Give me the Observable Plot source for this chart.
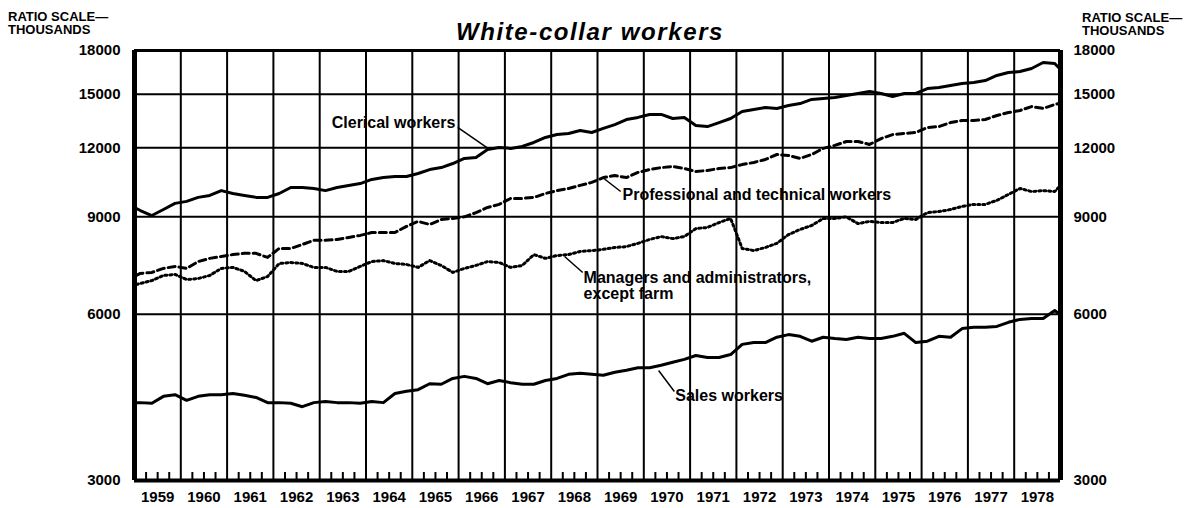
<!DOCTYPE html>
<html>
<head>
<meta charset="utf-8">
<script src="https://cdn.jsdelivr.net/npm/d3@7"></script>
<script src="https://cdn.jsdelivr.net/npm/@observablehq/plot@0.6"></script>
<style>
  body { margin: 0; background: #fff; }
  #wrap { position: relative; width: 1194px; height: 508px; font-family: "Liberation Sans", Arial, sans-serif; color: #000; }
  #wrap svg { position: absolute; left: 0; top: 0; }
  .title { position: absolute; left: 0; width: 1180px; top: 20px; line-height: 24px; text-align: center; font-weight: bold; font-style: italic; font-size: 24px; letter-spacing: 1.6px; }
  .ratio { position: absolute; font-weight: bold; font-size: 13px; line-height: 13px; white-space: nowrap; }
</style>
</head>
<body>
<div id="wrap"></div>
<script>
// ---- Data (thousands, ratio scale) ----
const years = [1959,1960,1961,1962,1963,1964,1965,1966,1967,1968,1969,1970,1971,1972,1973,1974,1975,1976,1977,1978];
const yTicks = [3000, 6000, 9000, 12000, 15000, 18000];
const gridValues = [6000, 9000, 12000, 15000];

// Each series: January 1959, then mid-quarter readings 1959 Q1 ... 1978 Q4, then December 1978
const clerical = [9320,
  9240, 9050, 9280, 9520,   9600, 9760, 9840, 10040,   9920, 9840, 9760, 9760,   9920, 10170, 10170, 10130,
  10040, 10170, 10260, 10340,   10520, 10600, 10650, 10650,   10780, 10960, 11050, 11240,   11480, 11530, 11920, 12020,
  11970, 12070, 12270, 12530,   12680, 12740, 12900, 12790,   13010, 13220, 13500, 13620,   13790, 13790, 13560, 13620,
  13170, 13110, 13330, 13560,   13960, 14080, 14190, 14140,   14310, 14430, 14680, 14740,   14800, 14920, 15050, 15170,
  15050, 14860, 15050, 15050,   15360, 15430, 15560, 15690,   15750, 15880, 16220, 16420,   16490, 16700, 17120, 17050,
  16770];
const professional = [7050,
  7110, 7140, 7260, 7320,   7260, 7470, 7570, 7630,   7690, 7730, 7730, 7600,   7890, 7890, 8020, 8160,
  8160, 8190, 8260, 8330,   8430, 8430, 8430, 8650,   8830, 8720, 8900, 8940,   9000, 9160, 9360, 9480,
  9720, 9720, 9760, 9920,   10040, 10130, 10260, 10390,   10600, 10690, 10600, 10830,   10960, 11050, 11100, 11010,
  10870, 10920, 11010, 11050,   11190, 11290, 11430, 11670,   11620, 11480, 11670, 11970,   12120, 12320, 12320, 12170,
  12470, 12680, 12740, 12790,   13060, 13110, 13330, 13450,   13450, 13500, 13730, 13900,   14020, 14250, 14140, 14370,
  14430];
const managers = [6790,
  6820, 6900, 7050, 7080,   6930, 6960, 7050, 7260,   7290, 7170, 6900, 7020,   7410, 7440, 7410, 7290,
  7290, 7170, 7170, 7320,   7470, 7500, 7410, 7380,   7290, 7500, 7350, 7140,   7260, 7350, 7470, 7440,
  7290, 7350, 7690, 7570,   7660, 7690, 7790, 7820,   7860, 7920, 7950, 8060,   8190, 8290, 8220, 8290,
  8570, 8610, 8790, 8940,   7890, 7820, 7920, 8060,   8360, 8540, 8680, 8940,   8940, 9000, 8750, 8830,
  8790, 8790, 8940, 8900,   9160, 9200, 9280, 9400,   9480, 9480, 9640, 9880,   10130, 10000, 10040, 10000,
  10170];
const sales = [4150,
  4150, 4140, 4260, 4290,   4190, 4260, 4290, 4290,   4310, 4280, 4240, 4150,   4150, 4140, 4080, 4150,
  4170, 4150, 4150, 4140,   4170, 4150, 4310, 4350,   4380, 4490, 4480, 4590,   4630, 4590, 4490, 4550,
  4510, 4480, 4480, 4550,   4590, 4670, 4690, 4670,   4650, 4710, 4750, 4800,   4800, 4850, 4910, 4970,
  5050, 5010, 5010, 5070,   5290, 5330, 5330, 5450,   5510, 5470, 5360, 5450,   5420, 5400, 5450, 5420,
  5420, 5470, 5540, 5330,   5360, 5470, 5450, 5650,   5680, 5680, 5700, 5800,   5870, 5890, 5890, 6090,
  6020];

const labels = [
  {text: "Clerical workers", x: 1965.93, y: 13330, anchor: "end"},
  {text: "Professional and technical workers", x: 1969.54, y: 9880, anchor: "start"},
  {text: "Managers and administrators,\nexcept farm", x: 1968.70, y: 6760, anchor: "start"},
  {text: "Sales workers", x: 1970.68, y: 4276, anchor: "start"}
];
const leaders = [
  {x1: 1965.98, y1: 13060, x2: 1966.62, y2: 12000},
  {x1: 1969.11, y1: 10604, x2: 1969.50, y2: 10002},
  {x1: 1968.29, y1: 7630, x2: 1968.68, y2: 7137},
  {x1: 1970.32, y1: 4745, x2: 1970.66, y2: 4348}
];

// ---- Build tables ----
const t = [years[0] + 0.5/12];
for (const y of years) for (let q = 0; q < 4; q++) t.push(y + 0.125 + 0.25*q);
t.push(years[years.length-1] + 11.5/12);
const rows = (name, vals) => vals.map((v, i) => ({series: name, t: t[i], v}));
const start = years[0], end = years[years.length-1] + 1;
const yearStarts = years.slice(1);
const midYears = years.map(y => y + 0.5);
const quarterTicks = years.flatMap(y => [y + 0.25, y + 0.5, y + 0.75]);

const plot = Plot.plot({
  width: 1194, height: 508,
  marginLeft: 134, marginRight: 134, marginTop: 50, marginBottom: 28,
  style: {fontFamily: "'Liberation Sans', Arial, sans-serif", fontWeight: "bold", background: "transparent", color: "black"},
  x: {domain: [start, end], axis: null},
  y: {type: "log", domain: [3000, 18000], axis: null},
  marks: [
    Plot.ruleY(gridValues, {stroke: "black", strokeWidth: 2}),
    Plot.ruleX(yearStarts, {stroke: "black", strokeWidth: 2}),
    Plot.tickX(quarterTicks, {stroke: "black", strokeWidth: 2, insetTop: 422}),
    Plot.axisX(midYears, {anchor: "bottom", tickSize: 0, tickPadding: 11, tickFormat: d => String(Math.floor(d)), fontSize: 15, fontWeight: "bold", label: null}),
    Plot.axisY(yTicks, {anchor: "left", tickSize: 0, tickPadding: 14, tickFormat: d => String(d), fontSize: 15, fontWeight: "bold", label: null}),
    Plot.axisY(yTicks, {anchor: "right", tickSize: 0, tickPadding: 13, tickFormat: d => String(d), fontSize: 15, fontWeight: "bold", label: null}),
    Plot.line(rows("Clerical workers", clerical), {x: "t", y: "v", stroke: "black", strokeWidth: 3}),
    Plot.line(rows("Professional and technical workers", professional), {x: "t", y: "v", stroke: "black", strokeWidth: 3, strokeDasharray: "7,4"}),
    Plot.line(rows("Managers and administrators, except farm", managers), {x: "t", y: "v", stroke: "black", strokeWidth: 3, strokeDasharray: "2,3"}),
    Plot.line(rows("Sales workers", sales), {x: "t", y: "v", stroke: "black", strokeWidth: 3}),
    Plot.ruleX([start, end], {stroke: "black", strokeWidth: 5}),
    Plot.ruleY([18000], {stroke: "black", strokeWidth: 3}),
    Plot.ruleY([3000], {stroke: "black", strokeWidth: 4}),
    Plot.link(leaders, {x1: "x1", y1: "y1", x2: "x2", y2: "y2", stroke: "black", strokeWidth: 1.5}),
    Plot.text(labels.filter(d => d.anchor === "end"), {x: "x", y: "y", text: "text", textAnchor: "end", fontSize: 16, fontWeight: "bold", fill: "black"}),
    Plot.text(labels.filter(d => d.anchor === "start"), {x: "x", y: "y", text: "text", textAnchor: "start", lineAnchor: "middle", lineHeight: 1.0, fontSize: 16, fontWeight: "bold", fill: "black"})
  ]
});

const wrap = document.getElementById("wrap");
wrap.appendChild(plot);
wrap.insertAdjacentHTML("beforeend",
  '<div class="ratio" style="left:8px;top:10px">RATIO SCALE\u2014<br>THOUSANDS</div>' +
  '<div class="ratio" style="left:1082px;top:11px">RATIO SCALE\u2014<br>THOUSANDS</div>' +
  '<div class="title">White-collar workers</div>');
</script>
</body>
</html>
